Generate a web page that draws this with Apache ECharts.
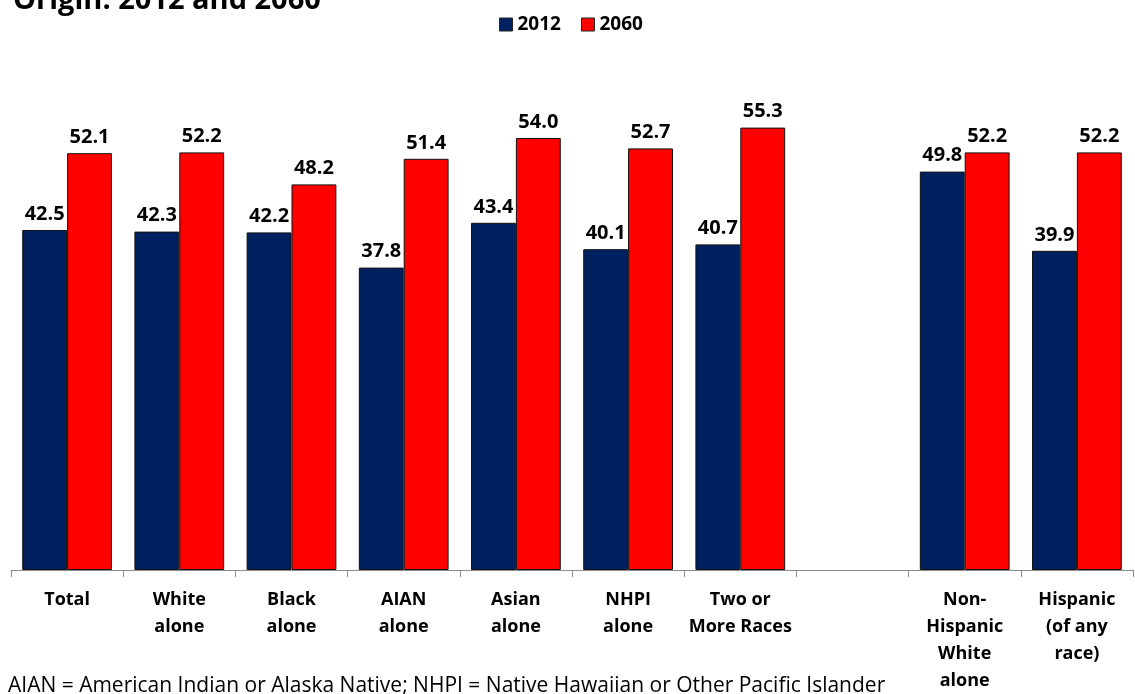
<!DOCTYPE html>
<html>
<head>
<meta charset="utf-8">
<script src="https://cdn.jsdelivr.net/npm/echarts@6/dist/echarts.min.js"></script>
<style>
html,body{margin:0;padding:0;background:#fff;}
#c{width:1135px;height:694px;}
</style>
</head>
<body>
<div id="c"></div>
<script>
var categories = ['Total', 'White\nalone', 'Black\nalone', 'AIAN\nalone', 'Asian\nalone', 'NHPI\nalone', 'Two or\nMore Races', '', 'Non-\nHispanic\nWhite\nalone', 'Hispanic\n(of any\nrace)'];
var values2012 = [42.5, 42.3, 42.2, 37.8, 43.4, 40.1, 40.7, null, 49.8, 39.9];
var values2060 = [52.1, 52.2, 48.2, 51.4, 54.0, 52.7, 55.3, null, 52.2, 52.2];
var seriesNames = ['2012', '2060'];
var titleText = 'Origin: 2012 and 2060';
var footnote = 'AIAN = American Indian or Alaska Native; NHPI = Native Hawaiian or Other Pacific Islander';

var FONT = '"Open Sans", Lato, sans-serif';
var chart = echarts.init(document.getElementById('c'), null, {renderer: 'canvas'});
var labelStyle = {
  show: true, position: 'top', distance: 6,
  color: '#000', fontWeight: 'bold', fontSize: 20, fontFamily: FONT,
  formatter: function (p) { return p.value == null ? '' : p.value.toFixed(1); }
};
chart.setOption({
  animation: false,
  title: {
    text: titleText, left: 8, top: -19,
    textStyle: {fontSize: 29, fontWeight: 'bold', color: '#000', fontFamily: FONT}
  },
  legend: {
    data: seriesNames, top: 10, left: 494,
    icon: 'rect',
    itemWidth: 13, itemHeight: 13, itemGap: 20,
    itemStyle: {borderColor: '#222', borderWidth: 1},
    textStyle: {fontSize: 19, fontWeight: 'bold', color: '#000', fontFamily: FONT}
  },
  graphic: [{
    type: 'text', left: 8, top: 676,
    style: {text: footnote, fontSize: 21, fill: '#000', fontFamily: FONT}
  }],
  grid: {left: 11, right: 2, top: 90, bottom: 121, containLabel: false},
  xAxis: {
    type: 'category', data: categories,
    axisLine: {lineStyle: {color: '#8c8c8c', width: 1}},
    axisTick: {show: true, length: 7, lineStyle: {color: '#8c8c8c'}},
    axisLabel: {
      interval: 0, margin: 16, color: '#000', fontWeight: 'bold',
      fontSize: 18, lineHeight: 27, fontFamily: FONT
    }
  },
  yAxis: {
    type: 'value', min: 0, max: 60, show: false,
    splitLine: {show: false}
  },
  series: [{
    name: seriesNames[0], type: 'bar', data: values2012,
    barGap: '0%', barCategoryGap: '20%',
    itemStyle: {color: '#002060', borderColor: '#111', borderWidth: 1},
    label: labelStyle
  }, {
    name: seriesNames[1], type: 'bar', data: values2060,
    itemStyle: {color: '#FF0000', borderColor: '#111', borderWidth: 1},
    label: labelStyle
  }]
});
</script>
</body>
</html>
